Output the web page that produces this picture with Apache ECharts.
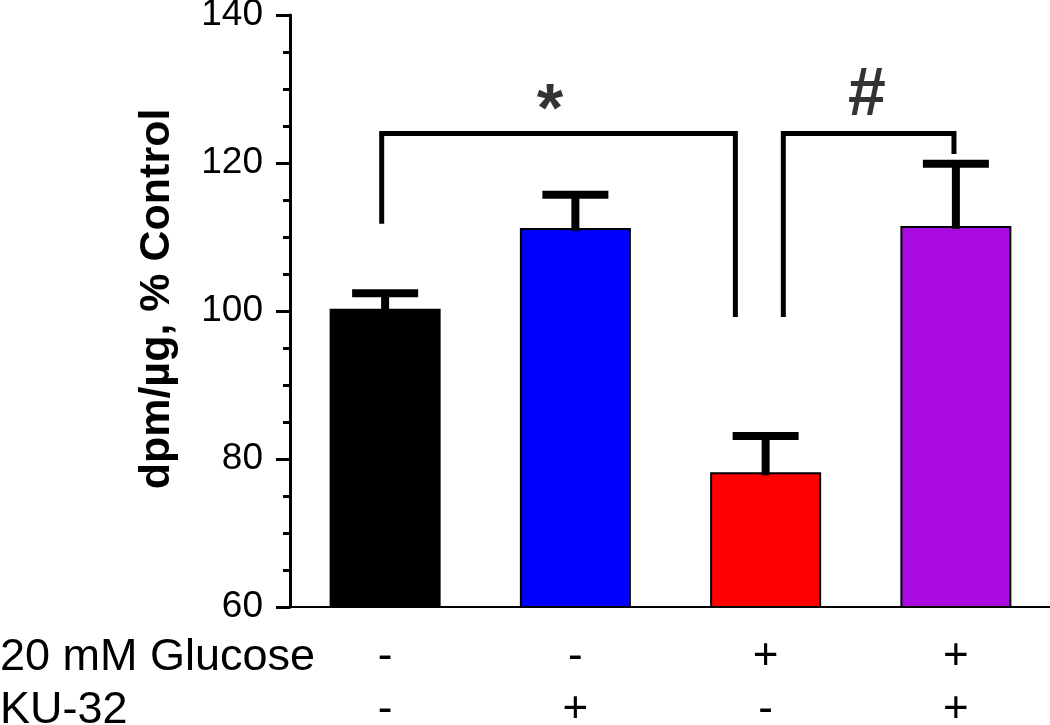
<!DOCTYPE html>
<html>
<head>
<meta charset="utf-8">
<script src="https://cdn.jsdelivr.net/npm/echarts@6/dist/echarts.min.js"></script>
<style>
html,body{margin:0;padding:0;background:#fff;}
#chart{width:1050px;height:725px;}
</style>
</head>
<body>
<div id="chart"></div>
<script>
// ---- data ----
const categories = ['Control', 'KU-32', 'Glucose', 'Glucose + KU-32'];
const means = [100.3, 111.2, 78.2, 111.5];
const upperErr = [102.4, 115.7, 83.1, 119.9];
const barColors = ['#000000', '#0000FF', '#FF0000', '#A80ADF'];
const glucoseRow = ['-', '-', '+', '+'];
const kuRow = ['-', '+', '-', '+'];
const rowTitles = ['20 mM Glucose', 'KU-32'];
const yTitle = 'dpm/\u00b5g, % Control';
const yMin = 60, yMax = 140, yInterval = 20;
// significance brackets (x in category units: category i centred at i+0.5)
const bracketStar = [[0.482, 111.8], [0.482, 124], [2.341, 124], [2.341, 99.2]];
const bracketHash = [[2.593, 99.2], [2.593, 124], [3.49, 124], [3.49, 121.2]];
const sigMarks = [[1.367, 126.8, '*'], [3.032, 129.0, '#']];

const FONT = '"Liberation Sans", Arial, sans-serif';

const chart = echarts.init(document.getElementById('chart'), null, {renderer: 'canvas'});

const option = {
  animation: false,
  backgroundColor: '#ffffff',
  grid: {left: 290, right: -1, top: 15, bottom: 118, containLabel: false, outerBoundsMode: 'none'},
  xAxis: [{
    type: 'category',
    data: categories,
    axisLine: {show: true, lineStyle: {color: '#000', width: 2}},
    axisTick: {show: false},
    axisLabel: {
      margin: 23,
      fontFamily: FONT,
      fontSize: 44,
      lineHeight: 53,
      color: '#000',
      formatter: function (v, i) { return glucoseRow[i] + '\n' + kuRow[i]; }
    }
  }, {
    type: 'value', min: 0, max: 4, show: false
  }],
  yAxis: {
    type: 'value',
    min: yMin, max: yMax, interval: yInterval,
    name: yTitle,
    nameLocation: 'middle',
    nameRotate: 90,
    nameGap: 111,
    nameTextStyle: {fontFamily: FONT, fontSize: 43, fontWeight: 'bold', color: '#000', padding: [0, 0, 0, 24]},
    axisLine: {show: true, lineStyle: {color: '#000', width: 3}},
    axisTick: {show: true, inside: false, length: 14, lineStyle: {color: '#000', width: 3}},
    minorTick: {show: true, splitNumber: 4, length: 7, lineStyle: {color: '#000', width: 3}},
    splitLine: {show: false},
    axisLabel: {margin: 27, fontFamily: FONT, fontSize: 37, color: '#000'}
  },
  graphic: [
    {type: 'text', left: 0, top: 635, style: {text: rowTitles[0], font: '45px ' + FONT, fill: '#000'}},
    {type: 'text', left: 0, top: 688, style: {text: rowTitles[1], font: '45px ' + FONT, fill: '#000'}}
  ],
  series: [
    {
      type: 'bar',
      barWidth: 111,
      data: means.map((v, i) => ({value: v, itemStyle: {color: barColors[i]}})),
      itemStyle: {borderColor: '#000', borderWidth: 2},
      z: 2
    },
    {
      type: 'custom',
      z: 3,
      data: means.map((v, i) => [i, v, upperErr[i]]),
      renderItem: function (params, api) {
        const base = api.coord([api.value(0), api.value(1)]);
        const top = api.coord([api.value(0), api.value(2)]);
        const hw = 33;
        return {
          type: 'group',
          children: [
            {type: 'line', shape: {x1: base[0], y1: base[1] + 3, x2: top[0], y2: top[1]},
             style: {stroke: '#000', lineWidth: 8}},
            {type: 'line', shape: {x1: top[0] - hw, y1: top[1], x2: top[0] + hw, y2: top[1]},
             style: {stroke: '#000', lineWidth: 8}}
          ]
        };
      }
    },
    {
      type: 'line', xAxisIndex: 1, data: bracketStar, symbol: 'none',
      lineStyle: {color: '#000', width: 5, join: 'miter'}, z: 4
    },
    {
      type: 'line', xAxisIndex: 1, data: bracketHash, symbol: 'none',
      lineStyle: {color: '#000', width: 5, join: 'miter'}, z: 4
    },
    {
      type: 'scatter', xAxisIndex: 1, symbolSize: 1,
      itemStyle: {color: 'rgba(0,0,0,0)'},
      data: sigMarks.map(m => ({value: [m[0], m[1]], name: m[2]})),
      label: {
        show: true, position: 'inside',
        formatter: p => p.name,
        fontFamily: FONT, fontSize: 68, fontWeight: 'bold', color: '#000'
      },
      z: 5
    }
  ]
};
chart.setOption(option);
</script>
</body>
</html>
